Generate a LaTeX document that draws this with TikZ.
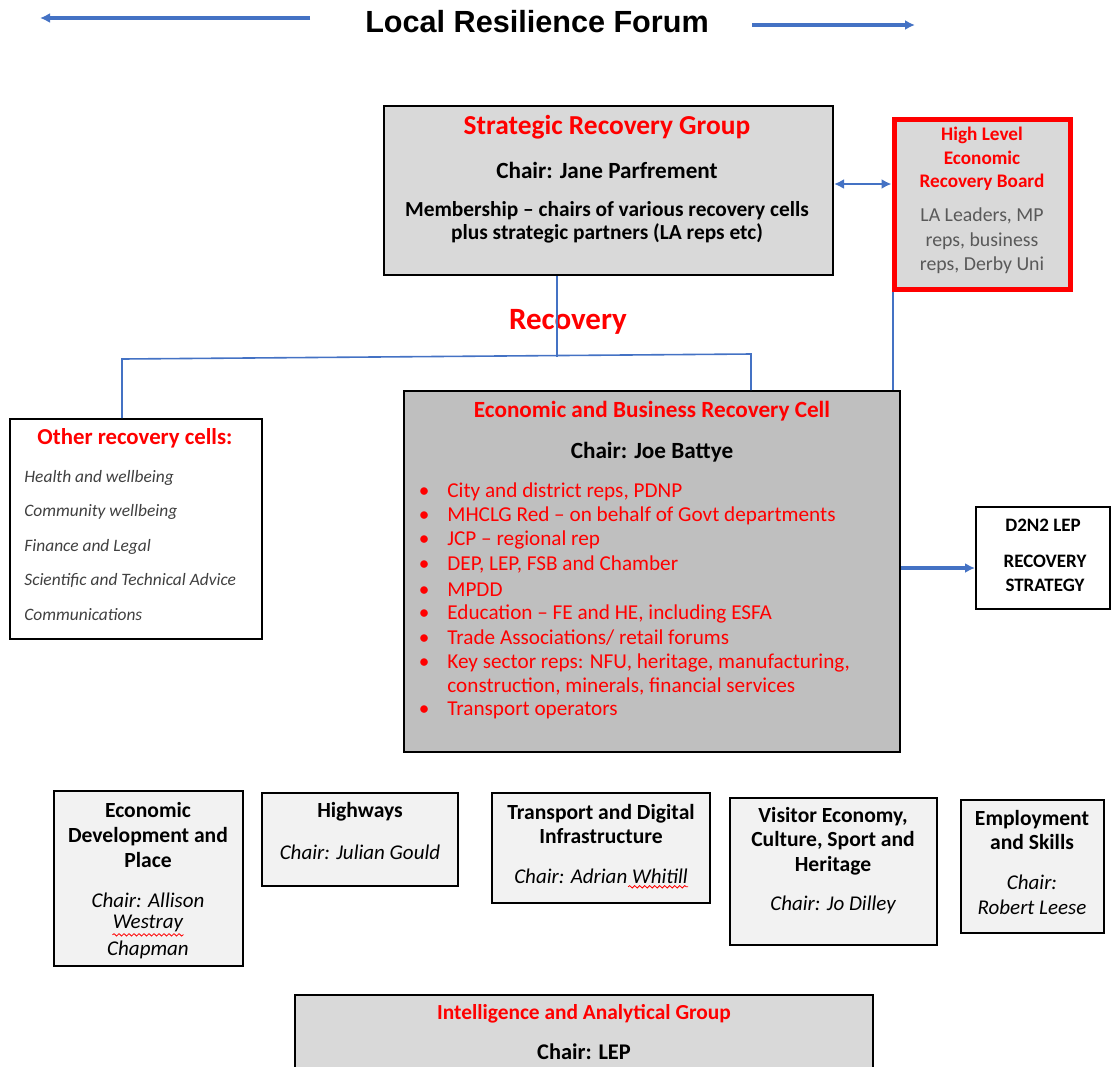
\documentclass[tikz,border=0pt]{standalone}
\usepackage{fontspec}
\setmainfont{Carlito}
\newfontfamily\lrffont{Liberation Sans}
\usetikzlibrary{arrows.meta,fit,decorations.pathmorphing}
\definecolor{linkblue}{HTML}{4472C4}
\definecolor{srggray}{HTML}{D9D9D9}
\definecolor{cellgray}{HTML}{BFBFBF}
\definecolor{subgray}{HTML}{F2F2F2}
\definecolor{notegray}{HTML}{595959}
\definecolor{itemgray}{HTML}{404040}
\newcommand{\bul}{\makebox[0pt][r]{\textbullet\hspace{9pt}}}
\tikzset{
  box/.style={draw=black, line width=1pt, inner sep=0pt},
  txt/.style={inner sep=0pt, align=center},
  redtxt/.style={txt, text=red, font=\bfseries\fontsize{11.6}{12}\selectfont},
  boldtxt/.style={txt, font=\bfseries\fontsize{10.8}{12.3}\selectfont},
  chairtxt/.style={txt, font=\itshape\fontsize{10.5}{12.3}\selectfont},
  memtxt/.style={inner sep=0pt, anchor=west, text=red, font=\fontsize{10.6}{12}\selectfont},
  celltxt/.style={inner sep=0pt, anchor=west, text=itemgray, font=\itshape\fontsize{8.7}{9}\selectfont},
  link/.style={draw=linkblue, line width=0.8pt},
  flow/.style={draw=linkblue, line width=1.8pt, -{Latex[length=5pt,width=5pt]}},
  spell/.style={draw=red, line width=0.4pt, decorate, decoration={snake, amplitude=0.6pt, segment length=2.5pt}}
}
\begin{document}
\begin{tikzpicture}[x=0.5pt, y=-0.5pt]
  \useasboundingbox (0,0) rectangle (1112,1066);

  % title
  \node[txt, font=\lrffont\bfseries\fontsize{15.3}{18}\selectfont] (lrf) at (537,22) {Local Resilience Forum};
  \coordinate (lrfL1) at (310,18);
  \coordinate (lrfL2) at (40,18);
  \coordinate (lrfR1) at (752,25);
  \coordinate (lrfR2) at (915,25);
  \draw[flow] (lrfL1) -- (lrfL2);
  \draw[flow] (lrfR1) -- (lrfR2);

  % strategic group
  \node[box, fill=srggray, fit={(384,106) (833,275)}] (srg) {};
  \node[txt, text=red, font=\bfseries\fontsize{13.7}{14}\selectfont] (srgtitle) at (607,127) {Strategic Recovery Group};
  \node[boldtxt, font=\bfseries\fontsize{11.6}{12.3}\selectfont] (srgchair) at (607,170) {Chair: Jane Parfrement};
  \node[txt, font=\bfseries\fontsize{10.7}{11.5}\selectfont] (srgmem) at (607,222) {Membership -- chairs of various recovery cells\\plus strategic partners (LA reps etc)};

  \node[box, draw=red, line width=2.5pt, fill=srggray, fit={(894,119) (1070,289)}] (hlerb) {};
  \node[txt, text=red, font=\bfseries\fontsize{9.6}{11.75}\selectfont] (hlerbtitle) at (982,159) {High Level\\Economic\\Recovery Board};
  \node[txt, text=notegray, font=\fontsize{9.9}{12.2}\selectfont] (hlerbmem) at (982,241) {LA Leaders, MP\\reps, business\\reps, Derby Uni};

  \draw[link, line width=1.2pt, {Latex[length=5pt,width=5pt]}-{Latex[length=5pt,width=5pt]}] (srg.east |- 0,184) -- (hlerb.west |- 0,184);

  % recovery cells
  \node[txt, text=red, font=\bfseries\fontsize{15.5}{16}\selectfont] (recovery) at (568,322) {Recovery};

  \node[box, fill=white, fit={(10,419) (262,639)}] (other) {};
  \node[txt, text=red, font=\bfseries\fontsize{11.4}{12}\selectfont] (othertitle) at (135,438) {Other recovery cells:};
  \node[celltxt] (oc1) at (24,478) {Health and wellbeing};
  \node[celltxt] (oc2) at (24,512) {Community wellbeing};
  \node[celltxt] (oc3) at (24,547) {Finance and Legal};
  \node[celltxt] (oc4) at (24,580) {Scientific and Technical Advice};
  \node[celltxt] (oc5) at (24,615) {Communications};

  \node[box, fill=cellgray, fit={(404,391) (900,752)}] (ebrc) {};
  \node[redtxt] (ebrctitle) at (652,411) {Economic and Business Recovery Cell};
  \node[boldtxt, font=\bfseries\fontsize{11.6}{12.3}\selectfont] (ebrcchair) at (652,452) {Chair: Joe Battye};
  \node[memtxt] (m1) at (447,492) {\bul City and district reps, PDNP};
  \node[memtxt] (m2) at (447,516) {\bul MHCLG Red -- on behalf of Govt departments};
  \node[memtxt] (m3) at (447,540) {\bul JCP -- regional rep};
  \node[memtxt] (m4) at (447,564) {\bul DEP, LEP, FSB and Chamber};
  \node[memtxt] (m5) at (447,590) {\bul MPDD};
  \node[memtxt] (m6) at (447,614) {\bul Education -- FE and HE, including ESFA};
  \node[memtxt] (m7) at (447,638) {\bul Trade Associations/ retail forums};
  \node[memtxt] (m8) at (447,663) {\bul Key sector reps: NFU, heritage, manufacturing,};
  \node[memtxt] (m8b) at (447,686) {construction, minerals, financial services};
  \node[memtxt] (m9) at (447,710) {\bul Transport operators};

  \coordinate (barL) at (122,359);
  \coordinate (barM) at (557,357);
  \coordinate (barR) at (751,354);
  \coordinate (hlfoot) at (893,0);
  \draw[link] (barM |- srg.south) -- (barM);
  \draw[link] (barL |- other.north) -- (barL) -- (barR) -- (barR |- ebrc.north);
  \draw[link] (hlfoot |- hlerb.south) -- (hlfoot |- ebrc.north);

  \node[box, fill=white, fit={(976,507) (1110,609)}] (d2n2) {};
  \node[txt, font=\bfseries\fontsize{9.5}{10}\selectfont] (d2n2a) at (1043,525) {D2N2 LEP};
  \node[txt, font=\bfseries\fontsize{9.5}{12}\selectfont] (d2n2b) at (1045,573) {RECOVERY\\STRATEGY};
  \draw[flow] (ebrc.east |- 0,568) -- (d2n2.west |- 0,568);

  % sub groups
  \node[box, fill=subgray, fit={(54,791) (243,966)}] (edp) {};
  \node[boldtxt] (edptitle) at (148,835) {Economic\\Development and\\Place};
  \node[chairtxt] (edpchair) at (148,900) {Chair: Allison};
  \node[chairtxt] (westray) at (148,923) {Westray};
  \node[chairtxt] (edpchair2) at (148,950) {Chapman};
  \draw[spell] ([yshift=-1.5pt]westray.south west) -- ([yshift=-1.5pt]westray.south east);

  \node[box, fill=subgray, fit={(262,793) (458,886)}] (hw) {};
  \node[boldtxt] (hwtitle) at (360,812) {Highways};
  \node[chairtxt] (hwchair) at (360,852) {Chair: Julian Gould};

  \node[box, fill=subgray, fit={(492,793) (710,903)}] (tdi) {};
  \node[boldtxt] (tdititle) at (601,824) {Transport and Digital\\Infrastructure};
  \node[chairtxt] (tdichair) at (601,876) {Chair: Adrian Whitill};
  \draw[spell] ([xshift=-30pt,yshift=-1.5pt]tdichair.south east) -- ([yshift=-1.5pt]tdichair.south east);

  \node[box, fill=subgray, fit={(730,798) (937,945)}] (vecsh) {};
  \node[boldtxt] (vecshtitle) at (833,841) {Visitor Economy,\\Culture, Sport and\\Heritage};
  \node[chairtxt] (vecshchair) at (833,905) {Chair: Jo Dilley};

  \node[box, fill=subgray, fit={(961,800) (1104,933)}] (esk) {};
  \node[boldtxt] (esktitle) at (1032,830) {Employment\\and Skills};
  \node[chairtxt] (eskchair) at (1032,895) {Chair:\\Robert Leese};

  % intelligence
  \node[box, fill=srggray, fit={(295,995) (873,1090)}] (iag) {};
  \node[redtxt, font=\bfseries\fontsize{10.7}{12}\selectfont] (iagtitle) at (584,1014) {Intelligence and Analytical Group};
  \node[boldtxt, font=\bfseries\fontsize{11.2}{12}\selectfont] (iagchair) at (584,1052) {Chair: LEP};
\end{tikzpicture}
\end{document}
